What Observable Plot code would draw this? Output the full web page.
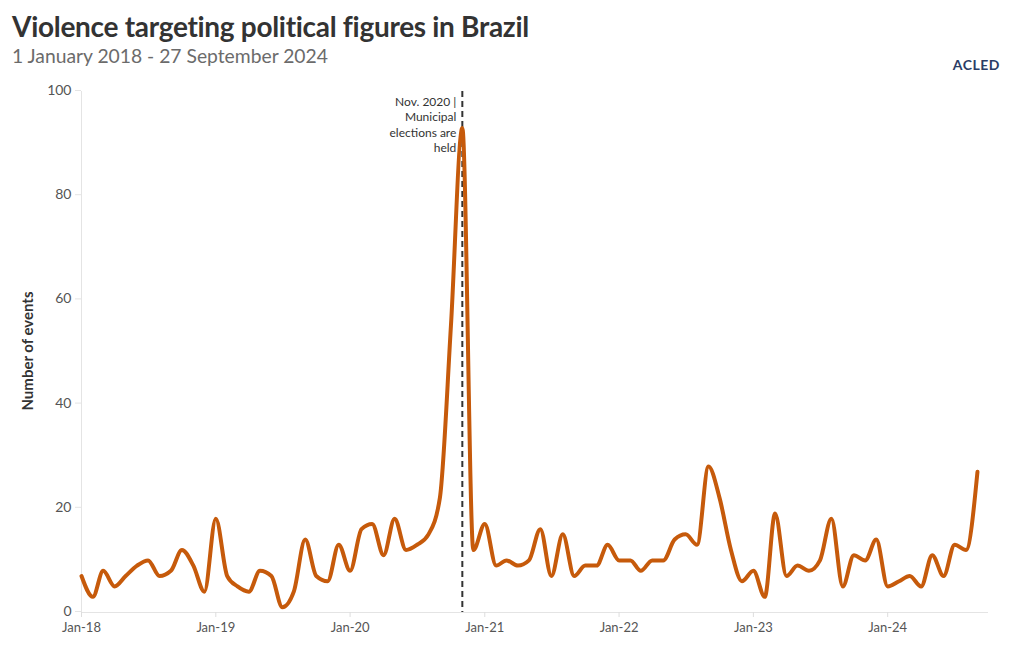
<!DOCTYPE html>
<html>
<head>
<meta charset="utf-8">
<script src="https://cdn.jsdelivr.net/npm/d3@7"></script>
<script src="https://cdn.jsdelivr.net/npm/@observablehq/plot@0.6"></script>
<style>
  html, body { margin: 0; padding: 0; background: #fff; }
  body { width: 1020px; height: 650px; overflow: hidden; font-family: Lato, "Open Sans", sans-serif; position: relative; }
  #header { height: 75px; position: relative; }
  #title { position: absolute; left: 12px; top: 9px; font-size: 28px; font-weight: 700; color: #333; letter-spacing: -0.3px; white-space: nowrap; }
  #subtitle { position: absolute; left: 12px; top: 44px; font-size: 19.3px; color: #6b6b6b; white-space: nowrap; }
  #logo { position: absolute; right: 20px; top: 56px; font-size: 14px; font-weight: 700; color: #2a3d66; letter-spacing: 0.5px; }
  #chart svg { display: block; }
</style>
</head>
<body>
<div id="header">
  <div id="title">Violence targeting political figures in Brazil</div>
  <div id="subtitle">1 January 2018 - 27 September 2024</div>
  <div id="logo">ACLED</div>
</div>
<div id="chart"></div>
<script>
// Monthly counts, January 2018 to September 2024
const startYear = 2018;
const values = [
  7, 3, 8, 5, 7, 9, 10, 7, 8, 12, 9, 4,        // 2018
  18, 7, 5, 4, 8, 7, 1, 4, 14, 7, 6, 13,       // 2019
  8, 16, 17, 11, 18, 12, 13, 15, 22, 55, 93, 12, // 2020
  17, 9, 10, 9, 10, 16, 7, 15, 7, 9, 9, 13,    // 2021
  10, 10, 8, 10, 10, 14, 15, 13, 28, 22, 12, 6, // 2022
  8, 3, 19, 7, 9, 8, 10, 18, 5, 11, 10, 14,    // 2023
  5, 6, 7, 5, 11, 7, 13, 12, 27                // 2024
];
const tickYears = [2018, 2019, 2020, 2021, 2022, 2023, 2024];
const tickLabels = ["Jan-18", "Jan-19", "Jan-20", "Jan-21", "Jan-22", "Jan-23", "Jan-24"];
const yTicks = [0, 20, 40, 60, 80, 100];
const annotationDate = [2020, 10]; // year, month index (Nov)
const annotationText = "Nov. 2020 |\nMunicipal\nelections are\nheld";

const data = values.map((v, i) => ({
  date: new Date(Date.UTC(startYear, i, 1)),
  value: v
}));
const tickDates = tickYears.map(y => new Date(Date.UTC(y, 0, 1)));
const labelOf = new Map(tickDates.map((d, i) => [+d, tickLabels[i]]));
const annDate = new Date(Date.UTC(annotationDate[0], annotationDate[1], 1));

const chart = Plot.plot({
  width: 1020,
  height: 575,
  marginTop: 16,
  marginBottom: 38,
  marginLeft: 81,
  marginRight: 32,
  style: { fontFamily: "Lato, 'Open Sans', sans-serif", color: "#555", background: "#fff" },
  x: {
    type: "utc",
    domain: [new Date(Date.UTC(2018, 0, 1)), new Date(Date.UTC(2024, 9, 1))],
    ticks: tickDates,
    tickFormat: d => labelOf.get(+d),
    label: null
  },
  y: {
    domain: [0, 100],
    ticks: yTicks,
    label: null
  },
  marks: [
    Plot.ruleY([0], { stroke: "#e4e4e4", strokeWidth: 1 }),
    Plot.ruleX([new Date(Date.UTC(2018, 0, 1))], { stroke: "#e4e4e4", strokeWidth: 1 }),
    Plot.axisX({
      ticks: tickDates,
      tickFormat: d => labelOf.get(+d),
      tickSize: 5,
      stroke: "#ddd",
      fill: "#555",
      fontSize: 13,
      tickPadding: 5,
      label: null
    }),
    Plot.axisY({
      ticks: yTicks,
      tickSize: 6,
      stroke: "#e4e4e4",
      fill: "#555",
      fontSize: 14,
      tickPadding: 4,
      dy: -1,
      label: null
    }),
    Plot.ruleX([annDate], { stroke: "#333", strokeWidth: 2, strokeDasharray: "6,4" }),
    Plot.lineY(data, {
      x: "date",
      y: "value",
      stroke: "#c65a0b",
      strokeWidth: 4,
      curve: "monotone-x"
    }),
    Plot.text([annotationText], {
      x: annDate,
      y: 100,
      dx: -6,
      dy: 3,
      textAnchor: "end",
      lineAnchor: "top",
      lineHeight: 1.3,
      fontSize: 12,
      fill: "#333",
      stroke: "#fff",
      strokeWidth: 3
    })
  ]
});

// Y-axis title
const svg = d3.select(chart);
svg.append("text")
  .attr("transform", "translate(33, 276) rotate(-90)")
  .attr("text-anchor", "middle")
  .attr("font-size", 15)
  .attr("font-weight", 700)
  .attr("fill", "#333")
  .text("Number of events");

document.getElementById("chart").appendChild(chart);
</script>
</body>
</html>
